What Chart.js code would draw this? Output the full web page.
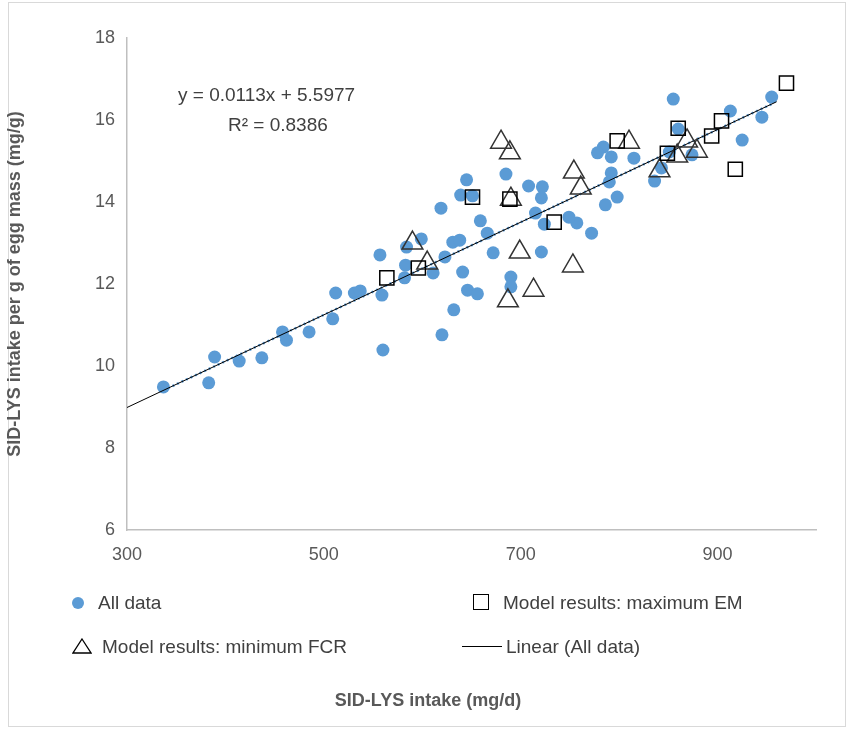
<!DOCTYPE html>
<html>
<head>
<meta charset="utf-8">
<script src="https://cdn.jsdelivr.net/npm/chart.js@4"></script>
<style>
  body { margin: 0; background: #fff; font-family: Arial, "Liberation Sans", sans-serif; }
  #wrap { position: relative; width: 856px; height: 731px; }
  #frame { position: absolute; left: 8px; top: 2px; width: 838px; height: 725px; border: 1px solid #d9d9d9; box-sizing: border-box; }
  canvas { position: absolute; left: 0; top: 0; }
  .t { position: absolute; color: #404040; font-size: 19px; white-space: nowrap; }
  .lg { position: absolute; color: #404040; font-size: 19px; white-space: nowrap; }
  .xt { position: absolute; color: #595959; font-size: 18px; font-weight: bold; left: 0; width: 856px; text-align: center; top: 690px; }
</style>
</head>
<body>
<div id="wrap">
  <div id="frame"></div>
  <canvas id="c" width="856" height="731"></canvas>
  <div class="t" style="left:178px; top:84px;">y = 0.0113x + 5.5977</div>
  <div class="t" style="left:228px; top:114px;">R² = 0.8386</div>
  <div class="lg" style="left:72px; top:592px;"><span style="display:inline-block;width:12px;height:12px;border-radius:6px;background:#5b9bd5;margin-right:14px;"></span>All data</div>
  <div class="lg" style="left:473px; top:592px;"><span style="display:inline-block;width:14px;height:14px;border:1.5px solid #000;margin-right:14px;vertical-align:-1px;"></span>Model results: maximum EM</div>
  <div class="lg" style="left:72px; top:636px;"><svg width="20" height="16" style="margin-right:10px;vertical-align:-1px;"><polygon points="10,1 19,15 1,15" fill="none" stroke="#000" stroke-width="1.3"/></svg>Model results: minimum FCR</div>
  <div class="lg" style="left:462px; top:636px;"><span style="display:inline-block;width:40px;height:1px;background:#000;margin-right:4px;vertical-align:6px;"></span>Linear (All data)</div>
  <div class="xt">SID-LYS intake (mg/d)</div>
</div>
<script>
const allX = [337, 383, 389, 414, 437, 458, 462, 485, 509, 512, 531, 537, 559, 557, 560, 582, 583, 599, 584, 611,
  620, 619, 632, 641, 646, 656, 623, 631, 638, 639, 651, 645, 659, 666, 672,
  855, 860, 913, 955, 945, 925, 836, 843, 851, 874, 784, 778, 792, 815, 792, 790, 798, 786,
  757, 749, 772, 724, 715, 721, 722, 708, 685, 721, 690, 690];
const allY = [9.49, 9.59, 10.22, 10.12, 10.20, 10.83, 10.63, 10.83, 11.15, 11.78, 11.78, 11.83, 11.73, 12.71, 10.39, 12.15, 12.46, 13.10, 12.90, 12.27,
  10.76, 13.85, 11.37, 12.29, 11.85, 11.76, 12.66, 13.02, 13.07, 14.17, 14.15, 14.54, 13.54, 13.24, 12.76,
  16.51, 15.78, 16.22, 16.56, 16.07, 15.51, 14.51, 14.83, 15.22, 15.15, 15.34, 15.20, 15.10, 15.07, 14.71, 14.49, 14.12, 13.93,
  13.49, 13.63, 13.24, 13.46, 13.73, 14.10, 14.37, 14.39, 14.68, 12.78, 12.17, 11.93];
const emX = [970, 860, 904, 894, 918, 849, 798, 734, 689, 651, 564, 596];
const emY = [16.90, 15.80, 15.98, 15.61, 14.80, 15.19, 15.49, 13.51, 14.07, 14.12, 12.15, 12.39];
const fcrX = [680, 689, 810, 869, 859, 879, 841, 754, 761, 690, 699, 753, 713, 687, 590, 605];
const fcrY = [15.46, 15.20, 15.46, 15.49, 15.12, 15.24, 14.76, 14.73, 14.34, 14.07, 12.78, 12.44, 11.85, 11.59, 13.0, 12.51];
const slope = 0.0113, intercept = 5.5977;
const lineX = [300, 960];
const dotLineX = [337, 955];
const xTicks = [300, 500, 700, 900];

const pts = (xs, ys) => xs.map((x, i) => ({ x: x, y: ys[i] }));
const fit = xs => xs.map(x => ({ x: x, y: slope * x + intercept }));

new Chart(document.getElementById('c'), {
  type: 'scatter',
  data: {
    datasets: [
      { label: 'All data', data: pts(allX, allY), backgroundColor: '#5b9bd5', borderColor: '#5b9bd5', pointRadius: 6.5, borderWidth: 0, order: 3 },
      { label: 'dots', data: fit(dotLineX), showLine: true, borderColor: '#5b9bd5', borderDash: [2, 3], borderWidth: 2.5, pointRadius: 0, order: 2 },
      { label: 'Linear (All data)', data: fit(lineX), showLine: true, borderColor: '#000', borderWidth: 1, pointRadius: 0, order: 1 },
      { label: 'Model results: maximum EM', data: pts(emX, emY), pointStyle: 'rect', pointRadius: 10, backgroundColor: 'rgba(255,255,255,0)', borderColor: '#000', borderWidth: 1.5, order: 0 },
      { label: 'Model results: minimum FCR', data: pts(fcrX, fcrY), pointStyle: 'triangle', pointRadius: 12, backgroundColor: 'rgba(255,255,255,0)', borderColor: '#333', borderWidth: 1.5, order: 0 }
    ]
  },
  options: {
    responsive: false,
    animation: false,
    layout: { padding: { left: 0, right: 40, top: 38, bottom: 151 } },
    plugins: { legend: { display: false }, tooltip: { enabled: false } },
    scales: {
      x: {
        min: 300, max: 1000,
        afterBuildTicks: s => { s.ticks = xTicks.map(v => ({ value: v })); },
        afterFit: s => { s.height = 50; },
        grid: { display: false, drawTicks: false },
        border: { color: '#bfbfbf', width: 1.5 },
        ticks: { color: '#595959', font: { size: 18, family: 'Arial' }, padding: 14 }
      },
      y: {
        min: 6, max: 18,
        afterFit: s => { s.width = 127; },
        grid: { display: false, drawTicks: false },
        border: { color: '#bfbfbf', width: 1.5 },
        ticks: { stepSize: 2, color: '#595959', font: { size: 18, family: 'Arial' }, padding: 12 },
        title: { display: true, text: 'SID-LYS intake per g of egg mass (mg/g)', color: '#595959', font: { size: 18, weight: 'bold', family: 'Arial' } }
      }
    }
  }
});
</script>
</body>
</html>
